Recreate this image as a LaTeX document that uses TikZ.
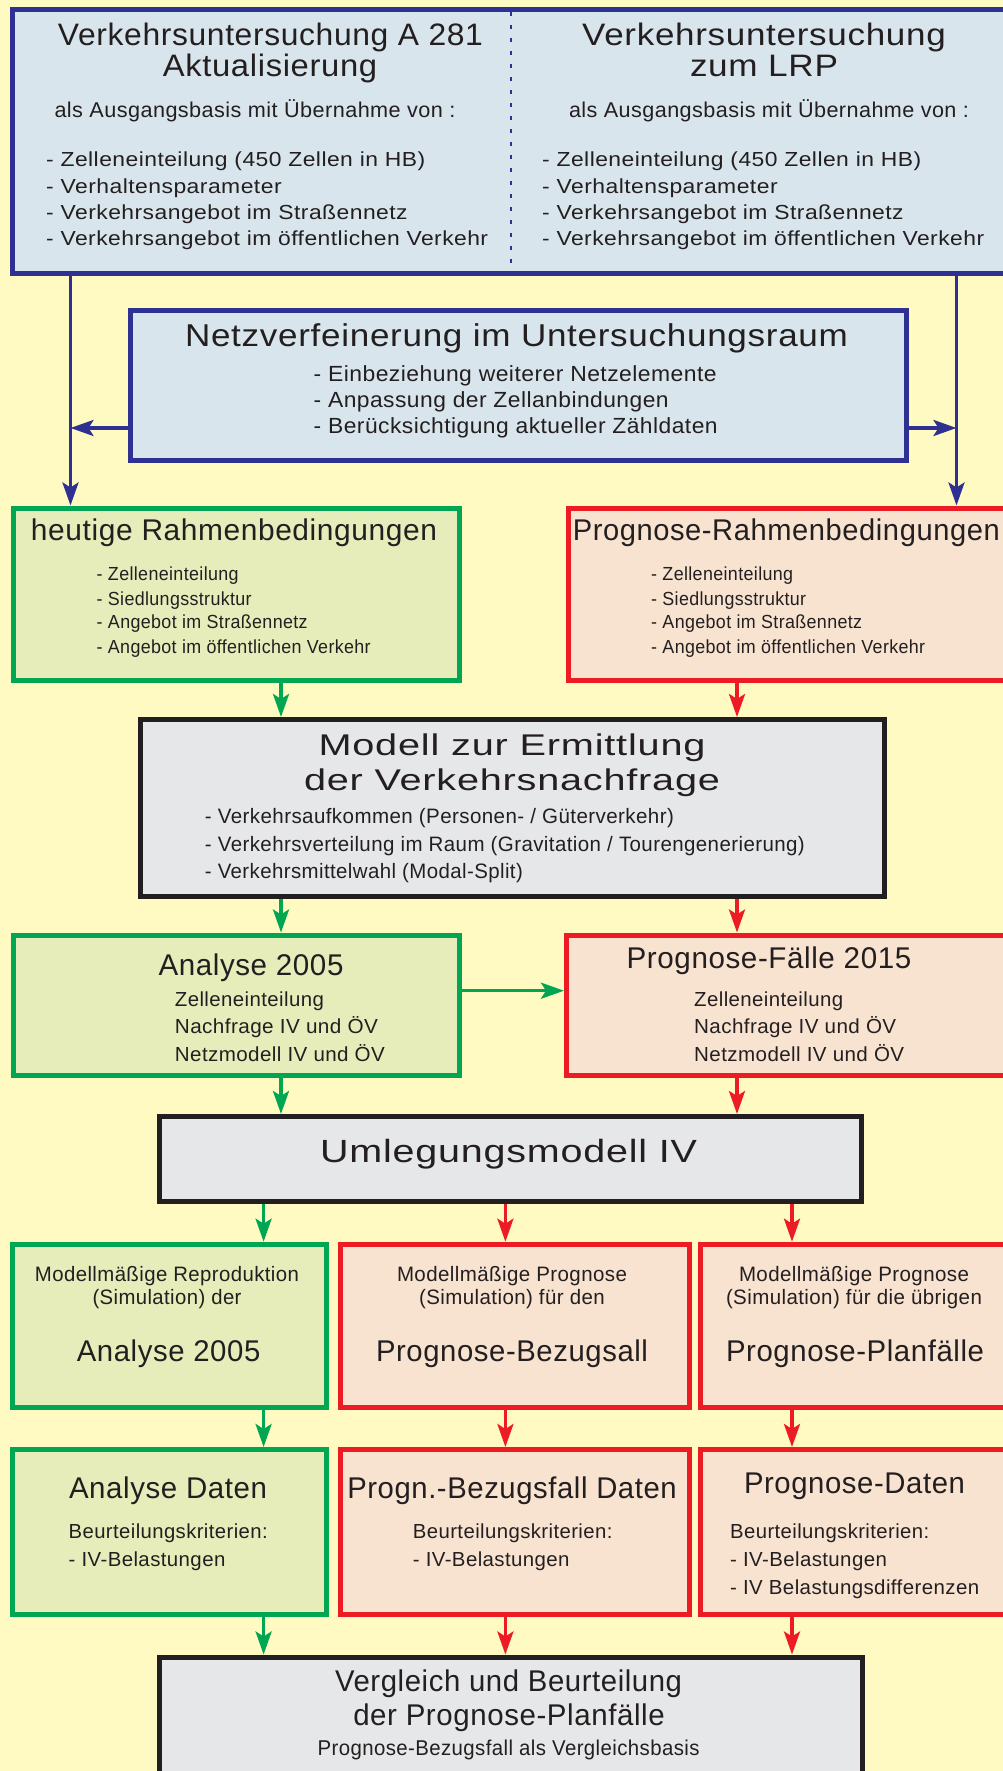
\documentclass[tikz,border=0pt]{standalone}
\usepackage{fontspec}
\setmainfont{Liberation Sans}[LetterSpace=2.0]
\usepackage{graphicx}
\usetikzlibrary{arrows.meta}
\definecolor{bg}{HTML}{FFF9C2}
\definecolor{navy}{HTML}{2E3192}
\definecolor{lblue}{HTML}{D9E5EC}
\definecolor{grn}{HTML}{00A651}
\definecolor{lgrn}{HTML}{E6EDBA}
\definecolor{rd}{HTML}{ED1C24}
\definecolor{lrd}{HTML}{F8E2D0}
\definecolor{blk}{HTML}{231F20}
\definecolor{lgry}{HTML}{E6E7E8}
\newlength\fitw
\newcommand\fitt[3]{\pgfmathsetmacro\fitfs{1.07*#1}\fontsize{\fitfs pt}{\fitfs pt}\selectfont\settowidth{\fitw}{#3}\pgfmathsetmacro\fitr{#2/\fitw}\scalebox{\fitr}[1]{#3}}
\newcommand\ctx[6]{\node[txt,anchor=base] (#1) at (#2,#3) {\fitt{#4}{#5}{#6}};}
\newcommand\ltx[6]{\node[txt,anchor=base west] (#1) at (#2,#3) {\fitt{#4}{#5}{#6}};}
\tikzset{
  txt/.style={inner sep=0pt, text=blk},
  box/.style={draw, line width=5pt, inner sep=0pt, anchor=north west},
  navybox/.style={box, draw=navy, fill=lblue},
  grnbox/.style={box, draw=grn, fill=lgrn},
  redbox/.style={box, draw=rd, fill=lrd},
  blkbox/.style={box, draw=blk, fill=lgry},
  tip/.style={-{Stealth[length=23pt,width=16pt,inset=5pt]}},
  navyline/.style={draw=navy, line width=3.5pt, tip},
  garr/.style={draw=grn, line width=3.5pt, tip},
  rarr/.style={draw=rd, line width=3.5pt, tip},
}
\begin{document}
\begin{tikzpicture}[x=1pt,y=-1pt]
\useasboundingbox (0,0) rectangle (1003,1771);
\fill[bg] (0,0) rectangle (1003,1771);
\clip (0,0) rectangle (1003,1771);

% boxes
\node[navybox, minimum width=1000pt, minimum height=263pt] (top) at (10,7.5) {};
\node[navybox, minimum width=776.5pt, minimum height=149.5pt] (netz) at (127.5,308) {};
\node[grnbox, minimum width=445.5pt, minimum height=172pt] (heut) at (11,505.5) {};
\node[redbox, minimum width=446pt, minimum height=172pt] (prr) at (566,505.5) {};
\node[blkbox, minimum width=744pt, minimum height=177pt] (modl) at (138,717) {};
\node[grnbox, minimum width=445.5pt, minimum height=140.5pt] (ana) at (11,932.5) {};
\node[redbox, minimum width=448pt, minimum height=140.5pt] (pf) at (564,932.5) {};
\node[blkbox, minimum width=702pt, minimum height=85pt] (uml) at (157,1114) {};
\node[grnbox, minimum width=314pt, minimum height=163.3pt] (r3a) at (10,1241.7) {};
\node[redbox, minimum width=349pt, minimum height=163.3pt] (r3b) at (337.5,1241.7) {};
\node[redbox, minimum width=314pt, minimum height=163.3pt] (r3c) at (698,1241.7) {};
\node[grnbox, minimum width=314pt, minimum height=164.7pt] (r4a) at (10,1447) {};
\node[redbox, minimum width=349pt, minimum height=164.7pt] (r4b) at (337.5,1447) {};
\node[redbox, minimum width=314pt, minimum height=164.7pt] (r4c) at (698,1447) {};
\node[blkbox, minimum width=702.5pt, minimum height=140pt] (bot) at (157,1654.5) {};

% dashed divider in top box
\draw[navy, line width=2pt, dash pattern=on 4pt off 9pt] (510.5,12) -- (510.5,266);

% connector coordinates
\coordinate (xL) at (70.5,0);
\coordinate (xR) at (956.5,0);
\coordinate (yN) at (0,428);
\coordinate (xG1) at (281,0);
\coordinate (xR1) at (737,0);
\coordinate (yA) at (0,990.7);
\coordinate (xG2) at (263.6,0);
\coordinate (xR2) at (505.4,0);
\coordinate (xR3) at (792,0);

% connectors
\draw[navyline] (top.south -| xL) -- (heut.north -| xL);
\draw[navyline] (top.south -| xR) -- (prr.north -| xR);
\draw[navyline] (netz.west |- yN) -- (xL |- yN);
\draw[navyline] (netz.east |- yN) -- (xR |- yN);
\draw[garr] (heut.south -| xG1) -- (modl.north -| xG1);
\draw[rarr] (prr.south -| xR1) -- (modl.north -| xR1);
\draw[garr] (modl.south -| xG1) -- (ana.north -| xG1);
\draw[rarr] (modl.south -| xR1) -- (pf.north -| xR1);
\draw[garr] (ana.east |- yA) -- (pf.west |- yA);
\draw[garr] (ana.south -| xG1) -- (uml.north -| xG1);
\draw[rarr] (pf.south -| xR1) -- (uml.north -| xR1);
\draw[garr] (uml.south -| xG2) -- (r3a.north -| xG2);
\draw[rarr] (uml.south -| xR2) -- (r3b.north -| xR2);
\draw[rarr] (uml.south -| xR3) -- (r3c.north -| xR3);
\draw[garr] (r3a.south -| xG2) -- (r4a.north -| xG2);
\draw[rarr] (r3b.south -| xR2) -- (r4b.north -| xR2);
\draw[rarr] (r3c.south -| xR3) -- (r4c.north -| xR3);
\draw[garr] (r4a.south -| xG2) -- (bot.north -| xG2);
\draw[rarr] (r4b.south -| xR2) -- (bot.north -| xR2);
\draw[rarr] (r4c.south -| xR3) -- (bot.north -| xR3);

% top box texts
\ctx{t1}{270.5}{46}{29}{425}{Verkehrsuntersuchung A 281}
\ctx{t2}{270}{76.5}{29}{214.5}{Aktualisierung}
\ctx{t3}{255}{118}{20}{401}{als Ausgangsbasis mit Übernahme von :}
\ltx{t4}{46}{167}{19}{379}{- Zelleneinteilung (450 Zellen in HB)}
\ltx{t5}{46}{193.3}{19}{235.5}{- Verhaltensparameter}
\ltx{t6}{46}{219.5}{19}{361.5}{- Verkehrsangebot im Straßennetz}
\ltx{t7}{46}{246}{19}{442}{- Verkehrsangebot im öffentlichen Verkehr}
\ctx{t8}{764}{46}{29}{363.6}{Verkehrsuntersuchung}
\ctx{t9}{764}{76.5}{29}{148}{zum LRP}
\ctx{t10}{769}{118}{20}{400}{als Ausgangsbasis mit Übernahme von :}
\ltx{t11}{542}{167}{19}{379}{- Zelleneinteilung (450 Zellen in HB)}
\ltx{t12}{542}{193.3}{19}{235.5}{- Verhaltensparameter}
\ltx{t13}{542}{219.5}{19}{361.5}{- Verkehrsangebot im Straßennetz}
\ltx{t14}{542}{246}{19}{442}{- Verkehrsangebot im öffentlichen Verkehr}

% Netz box
\ctx{n1}{516.5}{346.7}{29.5}{663}{Netzverfeinerung im Untersuchungsraum}
\ltx{n2}{313.5}{381.7}{20.5}{403}{- Einbeziehung weiterer Netzelemente}
\ltx{n3}{313.5}{407}{20.5}{355}{- Anpassung der Zellanbindungen}
\ltx{n4}{313.5}{433}{20.5}{404}{- Berücksichtigung aktueller Zähldaten}

% heutige
\ctx{h1}{234}{540.7}{28}{406}{heutige Rahmenbedingungen}
\ltx{h2}{96.5}{580}{17.7}{142}{- Zelleneinteilung}
\ltx{h3}{96.5}{605}{17.7}{155}{- Siedlungsstruktur}
\ltx{h4}{96.5}{628.5}{17.7}{211}{- Angebot im Straßennetz}
\ltx{h5}{96.5}{653}{17.7}{274}{- Angebot im öffentlichen Verkehr}

% Prognose-Rahmen
\ltx{p1}{572.6}{540.7}{28}{427}{Prognose-Rahmenbedingungen}
\ltx{p2}{651}{580}{17.7}{142}{- Zelleneinteilung}
\ltx{p3}{651}{605}{17.7}{155}{- Siedlungsstruktur}
\ltx{p4}{651}{628.5}{17.7}{211}{- Angebot im Straßennetz}
\ltx{p5}{651}{653}{17.7}{274}{- Angebot im öffentlichen Verkehr}

% Modell
\ctx{m1}{512}{755}{28}{387}{Modell zur Ermittlung}
\ctx{m2}{512}{790}{28}{416}{der Verkehrsnachfrage}
\ltx{m3}{204.7}{823.3}{19.5}{469}{- Verkehrsaufkommen (Personen- / Güterverkehr)}
\ltx{m4}{204.7}{851.7}{19.5}{600}{- Verkehrsverteilung im Raum (Gravitation / Tourengenerierung)}
\ltx{m5}{204.7}{878.3}{19.5}{318}{- Verkehrsmittelwahl (Modal-Split)}

% Analyse 2005
\ctx{a1}{251}{975}{28}{185}{Analyse 2005}
\ltx{a2}{174.7}{1006.7}{19}{149}{Zelleneinteilung}
\ltx{a3}{174.7}{1033.3}{19}{203}{Nachfrage IV und ÖV}
\ltx{a4}{174.7}{1061.7}{19}{210}{Netzmodell IV und ÖV}

% Prognose-Fälle
\ctx{f1}{769}{968.3}{28}{284.7}{Prognose-Fälle 2015}
\ltx{f2}{694}{1006.7}{19}{149}{Zelleneinteilung}
\ltx{f3}{694}{1033.3}{19}{202}{Nachfrage IV und ÖV}
\ltx{f4}{694}{1061.7}{19}{210}{Netzmodell IV und ÖV}

% Umlegung
\ctx{u1}{508.6}{1162.3}{30}{377}{Umlegungsmodell IV}

% row 3
\ctx{r1}{167}{1281.7}{19.5}{264}{Modellmäßige Reproduktion}
\ctx{r2}{167}{1304}{19.5}{149}{(Simulation) der}
\ctx{r3}{168.6}{1361.7}{28}{183.6}{Analyse 2005}
\ctx{r4}{512}{1281.7}{19.5}{230}{Modellmäßige Prognose}
\ctx{r5}{512}{1304}{19.5}{185.6}{(Simulation) für den}
\ctx{r6}{512}{1361.7}{28}{272}{Prognose-Bezugsall}
\ctx{r7}{854}{1281.7}{19.5}{230}{Modellmäßige Prognose}
\ctx{r8}{854}{1304}{19.5}{256}{(Simulation) für die übrigen}
\ctx{r9}{855}{1361.7}{28}{258}{Prognose-Planfälle}

% row 4
\ctx{s1}{168}{1498.3}{28}{198}{Analyse Daten}
\ltx{s2}{68.5}{1538.3}{19}{199}{Beurteilungskriterien:}
\ltx{s3}{68.5}{1566}{19}{156.7}{- IV-Belastungen}
\ctx{s4}{512}{1498.3}{28}{329.5}{Progn.-Bezugsfall Daten}
\ltx{s5}{412.7}{1538.3}{19}{199.6}{Beurteilungskriterien:}
\ltx{s6}{412.7}{1566}{19}{156.7}{- IV-Belastungen}
\ctx{s7}{854.5}{1493.5}{28}{221}{Prognose-Daten}
\ltx{s8}{730}{1538.3}{19}{199}{Beurteilungskriterien:}
\ltx{s9}{730}{1566}{19}{156.7}{- IV-Belastungen}
\ltx{s10}{730}{1594}{19}{249}{- IV Belastungsdifferenzen}

% bottom
\ctx{b1}{508.6}{1691.7}{28}{347}{Vergleich und Beurteilung}
\ctx{b2}{509}{1725}{28}{311.5}{der Prognose-Planfälle}
\ctx{b3}{508.6}{1755}{20}{382}{Prognose-Bezugsfall als Vergleichsbasis}
\end{tikzpicture}
\end{document}
